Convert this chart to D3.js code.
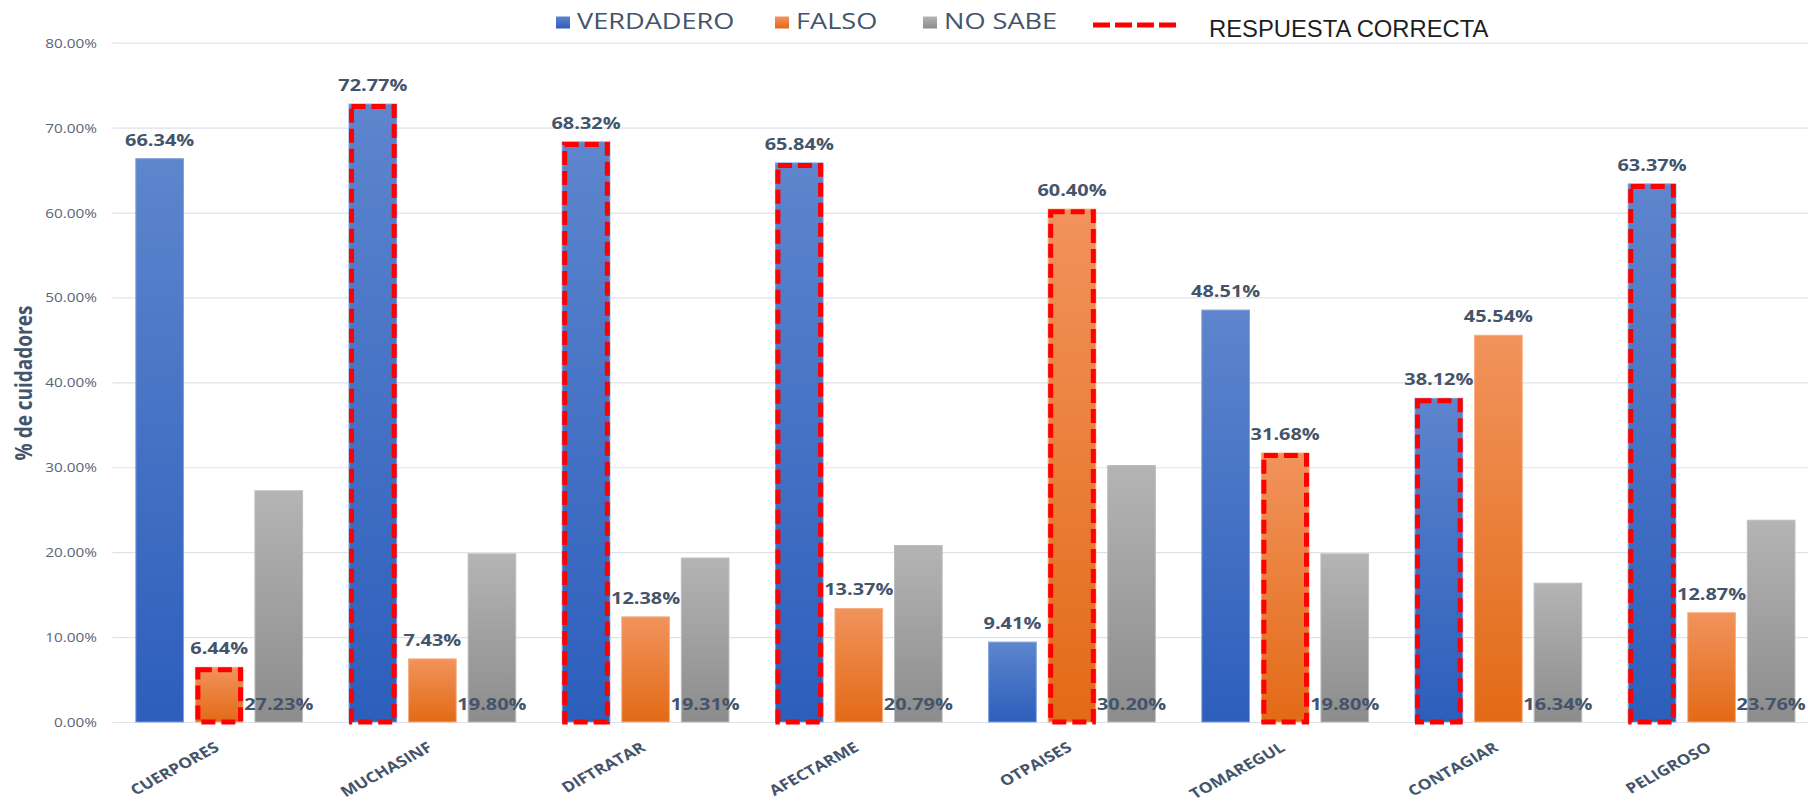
<!DOCTYPE html>
<html lang="es">
<head>
<meta charset="utf-8">
<script src="https://cdn.jsdelivr.net/npm/d3@7"></script>
<style>
  html, body { margin: 0; padding: 0; background: #ffffff; }
  svg { display: block; }
</style>
</head>
<body>
<svg id="chart" width="1808" height="803"></svg>
<script>
// Respuestas de los cuidadores a cada afirmación (% del total)
const categories = ["CUERPORES", "MUCHASINF", "DIFTRATAR", "AFECTARME", "OTPAISES", "TOMAREGUL", "CONTAGIAR", "PELIGROSO"];
const verdadero = [66.34, 72.77, 68.32, 65.84, 9.41, 48.51, 38.12, 63.37];
const falso     = [6.44, 7.43, 12.38, 13.37, 60.40, 31.68, 45.54, 12.87];
const noSabe    = [27.23, 19.80, 19.31, 20.79, 30.20, 19.80, 16.34, 23.76];
// Respuesta correcta de cada afirmación
const correcta  = ["FALSO", "VERDADERO", "VERDADERO", "VERDADERO", "FALSO", "FALSO", "VERDADERO", "VERDADERO"];
const seriesKeys   = ["VERDADERO", "FALSO", "NO SABE"];
const yTicks       = [0, 10, 20, 30, 40, 50, 60, 70, 80];
const yTitle       = "% de cuidadores";
const correctLabel = "RESPUESTA CORRECTA";

const seriesValues = { "VERDADERO": verdadero, "FALSO": falso, "NO SABE": noSabe };
const rows = categories.map((c, i) => ({
  cat: c,
  correct: correcta[i],
  bars: seriesKeys.map(k => ({ key: k, value: seriesValues[k][i], cat: c }))
}));

const W = 1808, H = 803;
const plot = { left: 112.6, right: 1818.2, top: 42.7, bottom: 722 };
const STRETCH = 1.2;   // horizontal stretch used on all chart text
const textInk = "#44546A";

const svg = d3.select("#chart");

const x0 = d3.scaleBand().domain(categories).range([plot.left, plot.right]).padding(0);
const x1 = d3.scaleBand().domain(seriesKeys).range([0, x0.bandwidth()])
  .paddingInner(0.2).paddingOuter(0.39);
const y = d3.scaleLinear().domain([0, 80]).range([plot.bottom, plot.top]);

// gradients, light at the top of each bar and darker at its base
const grads = {
  "VERDADERO": ["#5E85CD", "#2C5EBC", "#7F9FDC"],
  "FALSO":     ["#F1935C", "#E36A16", "#F5AE82"],
  "NO SABE":   ["#B4B4B4", "#8C8C8C", "#BDBDBD"]
};
const defs = svg.append("defs");
seriesKeys.forEach((k, i) => {
  const g = defs.append("linearGradient").attr("id", "grad" + i)
    .attr("x1", 0).attr("y1", 0).attr("x2", 0).attr("y2", 1);
  g.append("stop").attr("offset", "0%").attr("stop-color", grads[k][0]);
  g.append("stop").attr("offset", "100%").attr("stop-color", grads[k][1]);
});
const gradId = k => "url(#grad" + seriesKeys.indexOf(k) + ")";

// gridlines
const grid = svg.append("g")
  .attr("transform", `translate(${plot.left},0)`)
  .call(d3.axisLeft(y).tickValues(yTicks).tickSize(-(W - plot.left)).tickFormat(""));
grid.select(".domain").remove();
grid.selectAll(".tick line").attr("stroke", "#DEE2EA").attr("stroke-width", 1.2);

// y tick labels
const yAxis = svg.append("g")
  .attr("transform", `translate(${plot.left},0)`)
  .call(d3.axisLeft(y).tickValues(yTicks).tickSize(0).tickPadding(0)
    .tickFormat(v => v.toFixed(2) + "%"));
yAxis.select(".domain").remove();
yAxis.selectAll(".tick text")
  .attr("x", 0).attr("dy", "0.35em")
  .attr("transform", `translate(-15.6,0) scale(${STRETCH},1)`)
  .attr("text-anchor", "end")
  .style("font-family", "'Open Sans', sans-serif")
  .style("font-size", "12.8px")
  .attr("fill", "#5A6478");

// y axis title
svg.append("text")
  .attr("transform", `translate(24,383) scale(${STRETCH},1) rotate(-90)`)
  .attr("text-anchor", "middle")
  .attr("dy", "0.35em")
  .style("font-family", "'Open Sans', sans-serif")
  .style("font-weight", 700)
  .style("font-size", "19px")
  .attr("fill", textInk)
  .text(yTitle);

// bars
const groups = svg.append("g").selectAll("g.group")
  .data(rows).join("g")
  .attr("class", "group")
  .attr("transform", d => `translate(${x0(d.cat)},0)`);

groups.selectAll("rect.bar")
  .data(d => d.bars).join("rect")
  .attr("class", "bar")
  .attr("x", d => x1(d.key))
  .attr("width", x1.bandwidth())
  .attr("y", d => y(d.value))
  .attr("height", d => y(0) - y(d.value))
  .attr("fill", d => gradId(d.key))
  .attr("stroke", d => grads[d.key][2])
  .attr("stroke-width", 1);

// dashed outline on the correct answer
const sw = 5;
groups.append("rect")
  .datum(d => d.bars.find(b => b.key === d.correct))
  .attr("x", d => x1(d.key) + sw / 2)
  .attr("width", x1.bandwidth() - sw)
  .attr("y", d => y(d.value) + sw / 2)
  .attr("height", d => y(0) - y(d.value) - sw / 2)
  .attr("fill", "none")
  .attr("stroke", "#FF0000")
  .attr("stroke-width", sw)
  .attr("stroke-dasharray", "14,6");

// value labels
const fmt = v => v.toFixed(2) + "%";
groups.selectAll("text.val")
  .data(d => d.bars).join("text")
  .attr("class", "val")
  .attr("transform", d => {
    const cx = x1(d.key) + x1.bandwidth() / 2;
    const ty = d.key === "NO SABE" ? y(0) - 12 : y(d.value) - 13;
    return `translate(${cx},${ty}) scale(${STRETCH},1)`;
  })
  .attr("text-anchor", "middle")
  .style("font-family", "'Open Sans', sans-serif")
  .style("font-weight", 700)
  .style("font-size", "16.6px")
  .attr("fill", textInk)
  .text(d => fmt(d.value));

// category labels
const xAxis = svg.append("g")
  .attr("transform", `translate(0,${plot.bottom})`)
  .call(d3.axisBottom(x0).tickSize(0).tickPadding(0));
xAxis.select(".domain").remove();
xAxis.selectAll(".tick text")
  .attr("x", 0).attr("y", 0).attr("dy", 0)
  .attr("transform", `translate(1,28) scale(${STRETCH},1) rotate(-33)`)
  .attr("text-anchor", "end")
  .style("font-family", "'Open Sans', sans-serif")
  .style("font-weight", 700)
  .style("font-size", "14.5px")
  .attr("fill", textInk);

// legend
const legendPos = [556, 775, 923];
const legend = svg.append("g");
seriesKeys.forEach((k, i) => {
  legend.append("rect")
    .attr("x", legendPos[i]).attr("y", 16.5)
    .attr("width", 14).attr("height", 12)
    .attr("fill", gradId(k));
  legend.append("text")
    .attr("transform", `translate(${legendPos[i] + 21},28.5) scale(${STRETCH},1)`)
    .style("font-family", "'Open Sans', sans-serif")
    .style("font-size", "22.6px")
    .attr("fill", textInk)
    .text(k);
});
legend.append("line")
  .attr("x1", 1093).attr("x2", 1178).attr("y1", 25).attr("y2", 25)
  .attr("stroke", "#FF0000").attr("stroke-width", 5)
  .attr("stroke-dasharray", "17,5");
legend.append("text")
  .attr("x", 1209).attr("y", 37)
  .style("font-family", "'Liberation Sans', Arial, sans-serif")
  .style("font-size", "23.8px")
  .attr("fill", "#1E1E1E")
  .text(correctLabel);
</script>
</body>
</html>
